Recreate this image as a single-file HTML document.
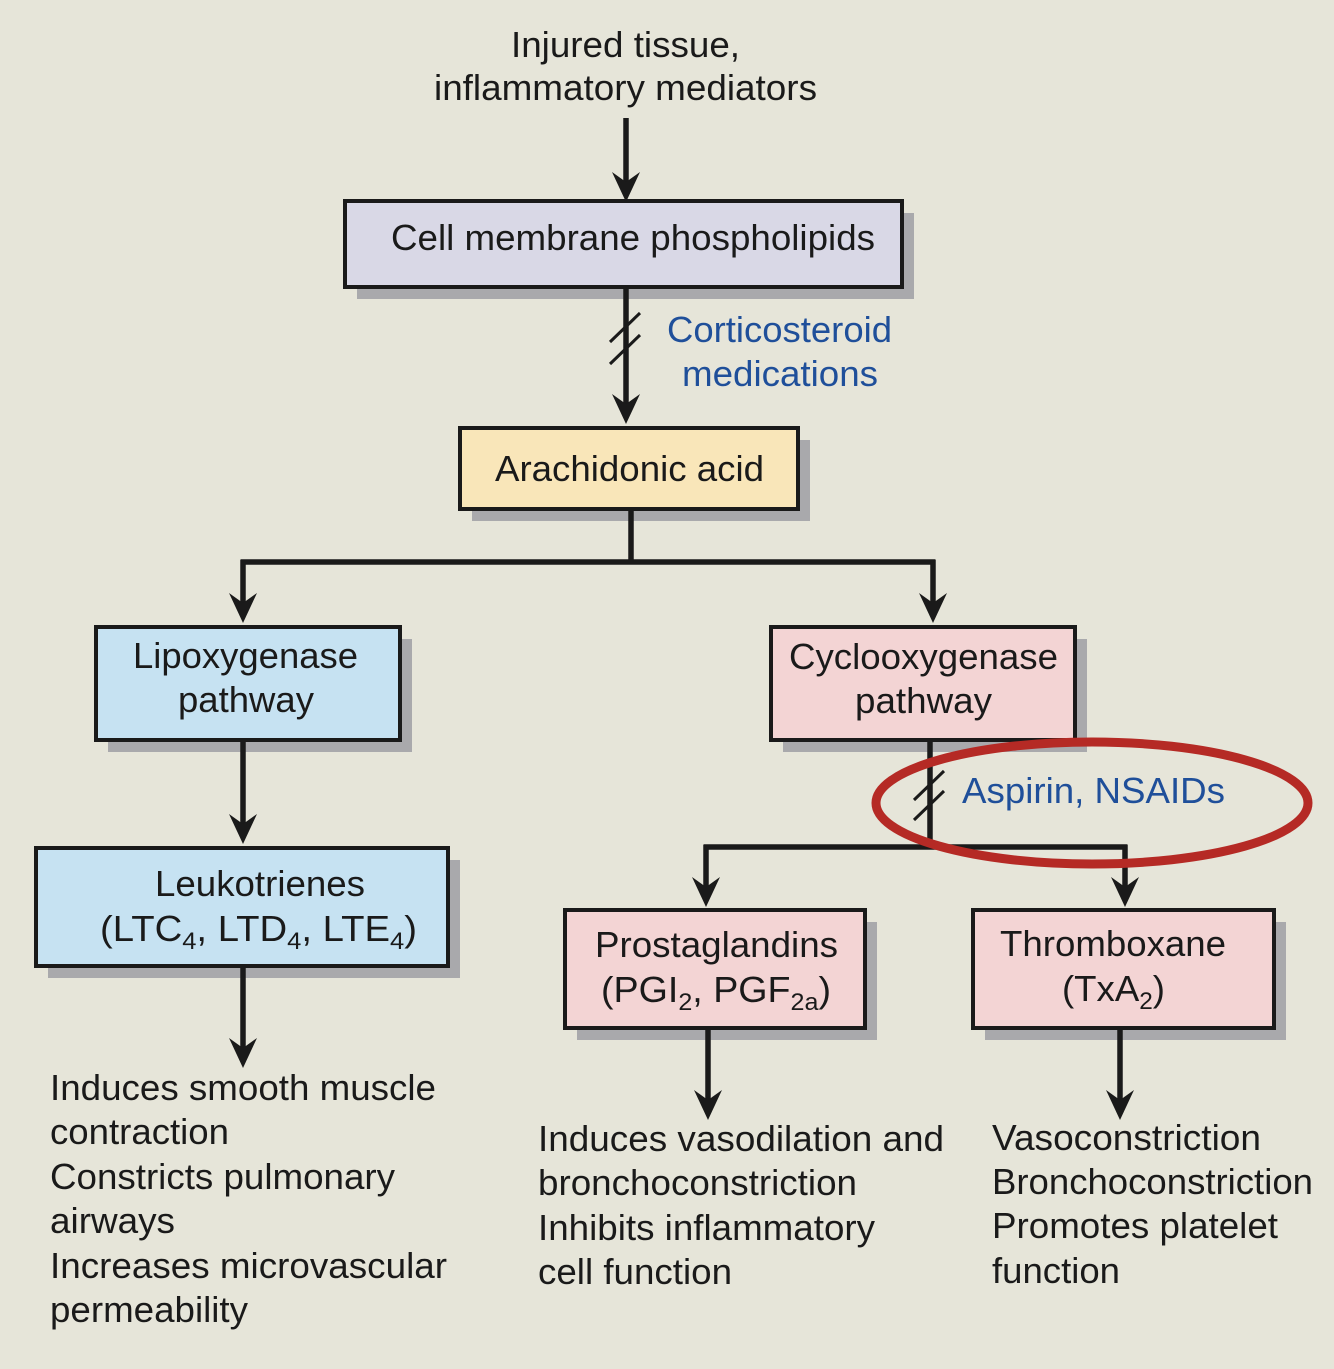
<!DOCTYPE html>
<html><head><meta charset="utf-8"><style>
html,body{margin:0;padding:0;background:#e6e5d9;}
svg{display:block;}
text{font-family:"Liberation Sans",sans-serif;font-size:36px;fill:#1a1a1a;}
.b{fill:#1f4f9a;}
</style></head><body>
<svg width="1334" height="1369" viewBox="0 0 1334 1369" xmlns="http://www.w3.org/2000/svg">
<rect width="1334" height="1369" fill="#e6e5d9"/>
<g fill="#a9a9ac">
<rect x="357" y="213" width="557" height="86"/>
<rect x="472" y="440" width="338" height="81"/>
<rect x="108" y="639" width="304" height="113"/>
<rect x="783" y="639" width="304" height="113"/>
<rect x="48" y="860" width="412" height="118"/>
<rect x="577" y="922" width="300" height="118"/>
<rect x="985" y="922" width="301" height="118"/>
</g>
<g stroke="#1a1a1a" stroke-width="4">
<rect x="345" y="201" width="557" height="86" fill="#d9d8e6"/>
<rect x="460" y="428" width="338" height="81" fill="#f9e6b9"/>
<rect x="96" y="627" width="304" height="113" fill="#c6e2f2"/>
<rect x="771" y="627" width="304" height="113" fill="#f3d4d4"/>
<rect x="36" y="848" width="412" height="118" fill="#c6e2f2"/>
<rect x="565" y="910" width="300" height="118" fill="#f3d4d4"/>
<rect x="973" y="910" width="301" height="118" fill="#f3d4d4"/>
</g>
<g stroke="#1a1a1a" stroke-width="5.5" fill="none">
<path d="M626 118V185"/>
<path d="M626 287V410"/>
<path d="M631 509V562M240.5 562H935.5M243 560V610M933 560V610"/>
<path d="M243 740V828"/>
<path d="M930 740V847M703.5 847H1127.5M706 845V893M1125 845V893"/>
<path d="M243 966V1052"/>
<path d="M708 1028V1104"/>
<path d="M1120 1028V1104"/>
</g>
<g fill="#1a1a1a">
<path d="M612 172L626 202L640 172L626 182Z"/>
<path d="M612 394L626 424L640 394L626 404Z"/>
<path d="M229 593L243 623L257 593L243 603Z"/>
<path d="M919 593L933 623L947 593L933 603Z"/>
<path d="M229 814L243 844L257 814L243 824Z"/>
<path d="M692 877L706 907L720 877L706 887Z"/>
<path d="M1111 877L1125 907L1139 877L1125 887Z"/>
<path d="M229 1038L243 1068L257 1038L243 1048Z"/>
<path d="M694 1090L708 1120L722 1090L708 1100Z"/>
<path d="M1106 1090L1120 1120L1134 1090L1120 1100Z"/>
</g>
<g stroke="#1a1a1a" stroke-width="3">
<line x1="610" y1="342" x2="640" y2="313"/>
<line x1="610" y1="364" x2="640" y2="335"/>
<line x1="914" y1="800" x2="944" y2="771"/>
<line x1="914" y1="820" x2="944" y2="791"/>
</g>
<ellipse cx="1092" cy="803" rx="216" ry="61" fill="none" stroke="#b52a25" stroke-width="9"/>
<text x="511" y="57" textLength="229" lengthAdjust="spacingAndGlyphs">Injured tissue,</text>
<text x="434" y="100" textLength="383" lengthAdjust="spacingAndGlyphs">inflammatory mediators</text>
<text x="391" y="250" textLength="484" lengthAdjust="spacingAndGlyphs">Cell membrane phospholipids</text>
<text class="b" x="667" y="342" textLength="225" lengthAdjust="spacingAndGlyphs">Corticosteroid</text>
<text class="b" x="682" y="386" textLength="196" lengthAdjust="spacingAndGlyphs">medications</text>
<text x="495" y="481" textLength="269" lengthAdjust="spacingAndGlyphs">Arachidonic acid</text>
<text x="133" y="668" textLength="225" lengthAdjust="spacingAndGlyphs">Lipoxygenase</text>
<text x="178" y="712" textLength="136" lengthAdjust="spacingAndGlyphs">pathway</text>
<text x="789" y="669" textLength="269" lengthAdjust="spacingAndGlyphs">Cyclooxygenase</text>
<text x="855" y="713" textLength="137" lengthAdjust="spacingAndGlyphs">pathway</text>
<text class="b" x="962" y="803" textLength="263" lengthAdjust="spacingAndGlyphs">Aspirin, NSAIDs</text>
<text x="155" y="896" textLength="210" lengthAdjust="spacingAndGlyphs">Leukotrienes</text>
<text x="100" y="941" textLength="317" lengthAdjust="spacingAndGlyphs">(LTC<tspan font-size="24" dy="8">4</tspan><tspan dy="-8">, LTD</tspan><tspan font-size="24" dy="8">4</tspan><tspan dy="-8">, LTE</tspan><tspan font-size="24" dy="8">4</tspan><tspan dy="-8">)</tspan></text>
<text x="595" y="957" textLength="243" lengthAdjust="spacingAndGlyphs">Prostaglandins</text>
<text x="601" y="1002" textLength="230" lengthAdjust="spacingAndGlyphs">(PGI<tspan font-size="24" dy="8">2</tspan><tspan dy="-8">, PGF</tspan><tspan font-size="24" dy="8">2a</tspan><tspan dy="-8">)</tspan></text>
<text x="1000" y="956" textLength="226" lengthAdjust="spacingAndGlyphs">Thromboxane</text>
<text x="1062" y="1001" textLength="103" lengthAdjust="spacingAndGlyphs">(TxA<tspan font-size="24" dy="8">2</tspan><tspan dy="-8">)</tspan></text>
<text x="50" y="1100" textLength="386" lengthAdjust="spacingAndGlyphs">Induces smooth muscle</text>
<text x="50" y="1144" textLength="179" lengthAdjust="spacingAndGlyphs">contraction</text>
<text x="50" y="1189" textLength="345" lengthAdjust="spacingAndGlyphs">Constricts pulmonary</text>
<text x="50" y="1233" textLength="125" lengthAdjust="spacingAndGlyphs">airways</text>
<text x="50" y="1278" textLength="397" lengthAdjust="spacingAndGlyphs">Increases microvascular</text>
<text x="50" y="1322" textLength="198" lengthAdjust="spacingAndGlyphs">permeability</text>
<text x="538" y="1151" textLength="406" lengthAdjust="spacingAndGlyphs">Induces vasodilation and</text>
<text x="538" y="1195" textLength="319" lengthAdjust="spacingAndGlyphs">bronchoconstriction</text>
<text x="538" y="1240" textLength="337" lengthAdjust="spacingAndGlyphs">Inhibits inflammatory</text>
<text x="538" y="1284" textLength="194" lengthAdjust="spacingAndGlyphs">cell function</text>
<text x="992" y="1150" textLength="269" lengthAdjust="spacingAndGlyphs">Vasoconstriction</text>
<text x="992" y="1194" textLength="321" lengthAdjust="spacingAndGlyphs">Bronchoconstriction</text>
<text x="992" y="1238" textLength="286" lengthAdjust="spacingAndGlyphs">Promotes platelet</text>
<text x="992" y="1283" textLength="128" lengthAdjust="spacingAndGlyphs">function</text>
</svg>
</body></html>
